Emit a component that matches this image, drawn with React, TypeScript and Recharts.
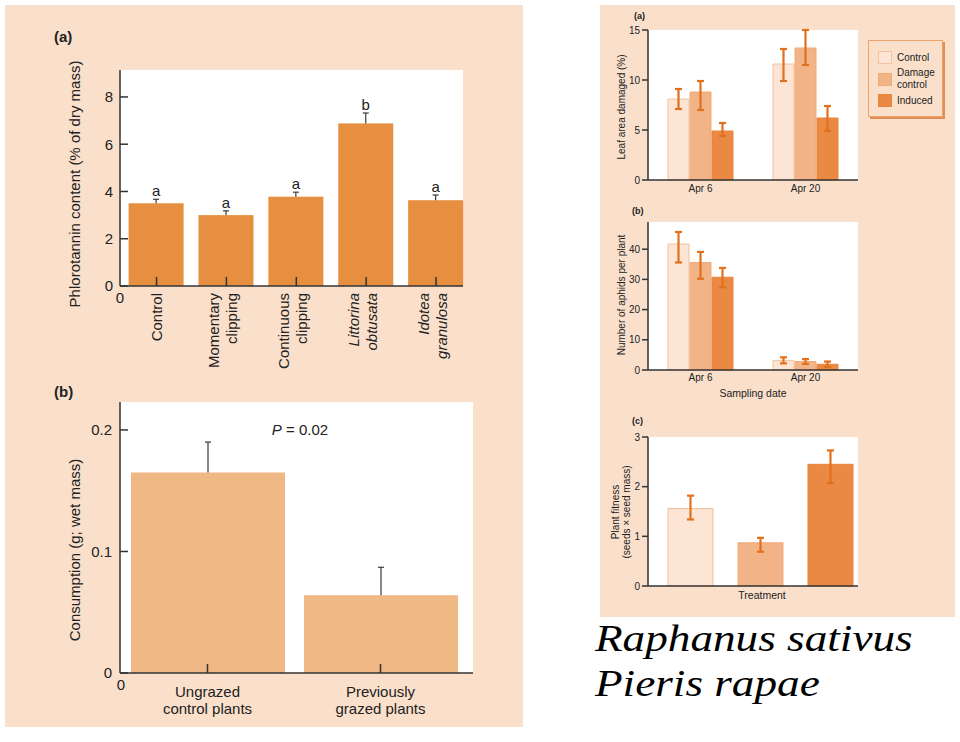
import React from 'react';
import { BarChart, Bar, XAxis, YAxis, CartesianGrid, ErrorBar, Legend } from 'recharts';

const PEACH = '#FAE0CB';
const SANS = '"Liberation Sans", Arial, sans-serif';
const SERIF = '"Liberation Serif", "Times New Roman", serif';
const INK = '#222';
const AXIS = '#333';

// left (a): phlorotannin content by treatment
const treatments = ['Control', 'Momentary clipping', 'Continuous clipping', 'Littorina obtusata', 'Idotea granulosa'];
const treatmentLines = [['Control'], ['Momentary', 'clipping'], ['Continuous', 'clipping'], ['Littorina', 'obtusata'], ['Idotea', 'granulosa']];
const treatmentItalic = [false, false, false, true, true];
const phlorotannin = [3.5, 3.0, 3.78, 6.88, 3.63];
const phlorotanninSE = [0.17, 0.18, 0.19, 0.44, 0.22];
const phlorotanninGroup = ['a', 'a', 'a', 'b', 'a'];
const phlorotanninTicks = [0, 2, 4, 6, 8];

// left (b): consumption by grazing history
const grazing = ['Ungrazed control plants', 'Previously grazed plants'];
const grazingLines = [['Ungrazed', 'control plants'], ['Previously', 'grazed plants']];
const consumption = [0.165, 0.064];
const consumptionSE = [0.025, 0.023];
const consumptionTicks = [0, 0.1, 0.2];

// right panels: Raphanus sativus / Pieris rapae
const dates = ['Apr 6', 'Apr 20'];
const seriesNames = ['Control', 'Damage control', 'Induced'];

const leafControl = [8.1, 11.6];
const leafControlErr = [[1.0, 1.0], [1.7, 1.5]];
const leafDamage = [8.8, 13.2];
const leafDamageErr = [[1.8, 1.1], [1.7, 1.8]];
const leafInduced = [4.9, 6.2];
const leafInducedErr = [[0.5, 0.8], [1.3, 1.2]];
const leafTicks = [0, 5, 10, 15];

const aphidControl = [41.7, 3.2];
const aphidControlErr = [[6.1, 4.0], [1.0, 1.0]];
const aphidDamage = [35.6, 2.8];
const aphidDamageErr = [[5.4, 3.5], [0.8, 0.8]];
const aphidInduced = [30.7, 1.9];
const aphidInducedErr = [[3.3, 3.1], [0.9, 0.9]];
const aphidTicks = [0, 10, 20, 30, 40];

const fitness = [1.56, 0.87, 2.45];
const fitnessErr = [[0.22, 0.26], [0.18, 0.1], [0.38, 0.28]];
const fitnessTicks = [0, 1, 2, 3];

const SERIES_FILL = ['#FCE5D4', '#F2B487', '#EA8943'];
const SERIES_STROKE = ['#F0C29F', '#EFAA77', '#E8843C'];
const ERR = '#E2711D';

const phloroRows = treatments.map((t, i) => ({
  name: t, v: phlorotannin[i], se: phlorotanninSE[i], group: phlorotanninGroup[i],
}));
const consumptionRows = grazing.map((g, i) => ({ name: g, v: consumption[i], se: consumptionSE[i] }));
const leafRows = dates.map((d, i) => ({
  date: d,
  s0: leafControl[i], s0Err: leafControlErr[i],
  s1: leafDamage[i], s1Err: leafDamageErr[i],
  s2: leafInduced[i], s2Err: leafInducedErr[i],
}));
const aphidRows = dates.map((d, i) => ({
  date: d,
  s0: aphidControl[i], s0Err: aphidControlErr[i],
  s1: aphidDamage[i], s1Err: aphidDamageErr[i],
  s2: aphidInduced[i], s2Err: aphidInducedErr[i],
}));
const fitnessRows = seriesNames.map((n, i) => ({ name: n, v: fitness[i], err: fitnessErr[i] }));

// bar with an upward-only whisker and optional group letter
const whiskerBar = (fill: string, cap: number) => (p: any) => {
  const { x, y, width, height, payload } = p;
  const perUnit = payload.v ? height / payload.v : 0;
  const top = y - payload.se * perUnit;
  const cx = x + width / 2;
  return (
    <g>
      <rect x={x} y={y} width={width} height={height} fill={fill} />
      <line x1={cx} x2={cx} y1={y} y2={top} stroke="#3a3a3a" strokeWidth={1.2} />
      <line x1={cx - cap} x2={cx + cap} y1={top} y2={top} stroke="#3a3a3a" strokeWidth={1.2} />
      {payload.group && (
        <text x={cx} y={top - 3} textAnchor="middle" fontSize={15} fontFamily={SANS} fill={INK}>
          {payload.group}
        </text>
      )}
    </g>
  );
};

const TreatmentTick = (p: any) => {
  const { x, y, payload } = p;
  const i = treatments.indexOf(payload.value);
  const lines = treatmentLines[i] || [payload.value];
  const top = y + 7;
  const first = lines.length === 1 ? 5.5 : -7.5;
  return (
    <text
      transform={`rotate(-90 ${x} ${top})`}
      x={x} y={top} textAnchor="end" fontSize={15} fontFamily={SANS} fill={INK}
      fontStyle={treatmentItalic[i] ? 'italic' : 'normal'}
    >
      {lines.map((l, k) => (
        <tspan key={k} x={x} dy={k === 0 ? first : 18}>{l}</tspan>
      ))}
    </text>
  );
};

const GrazingTick = (p: any) => {
  const { x, y, payload } = p;
  const lines = grazingLines[grazing.indexOf(payload.value)] || [payload.value];
  return (
    <text x={x} y={y} textAnchor="middle" fontSize={15} fontFamily={SANS} fill={INK}>
      {lines.map((l, k) => (
        <tspan key={k} x={x} dy={k === 0 ? 24 : 17}>{l}</tspan>
      ))}
    </text>
  );
};

// rotated axis title(s), coordinates in the chart's own frame
const vTitle = (lines: string[], xs: number[], cy: number, size: number) => () => (
  <g>
    {lines.map((l, k) => (
      <text key={k} transform={`rotate(-90 ${xs[k]} ${cy})`} x={xs[k]} y={cy} textAnchor="middle"
        fontSize={size} fontFamily={SANS} fill={INK}>{l}</text>
    ))}
  </g>
);

const LeafLegend = () => (
  <div style={{
    width: 75, height: 77, boxSizing: 'border-box', background: PEACH,
    border: '1px solid #E9A36E', boxShadow: '2px 2px 0 #E08E55',
    padding: '10px 0 0 9px', display: 'flex', flexDirection: 'column', gap: 3,
    fontFamily: SANS, fontSize: 10, color: INK,
  }}>
    {seriesNames.map((n, i) => (
      <div key={n} style={{ display: 'flex', alignItems: 'center', gap: 5 }}>
        <div style={{ width: 14, height: 13, background: SERIES_FILL[i], boxSizing: 'border-box', border: `1px solid ${SERIES_STROKE[i]}`, flex: 'none' }} />
        <div style={{ width: 42, lineHeight: '12px' }}>{n}</div>
      </div>
    ))}
  </div>
);

const rightTick = { fontSize: 10, fill: INK, fontFamily: SANS };

const groupedBars = () =>
  seriesNames.map((n, i) => (
    <Bar key={n} name={n} dataKey={`s${i}`} fill={SERIES_FILL[i]} stroke={SERIES_STROKE[i]} strokeWidth={1}
      barSize={21} isAnimationActive={false}>
      <ErrorBar dataKey={`s${i}Err`} width={3.5} strokeWidth={2.2} stroke={ERR} isAnimationActive={false} />
    </Bar>
  ));

export default function App() {
  return (
    <div style={{ position: 'absolute', left: 0, top: 0, width: 960, height: 742, background: '#fff', overflow: 'hidden', fontFamily: SANS }}>
      <div style={{ position: 'absolute', left: 5, top: 5, width: 518, height: 722, background: PEACH }} />
      <div style={{ position: 'absolute', left: 600, top: 5, width: 355, height: 612, background: PEACH }} />

      {/* left (a) */}
      <div style={{ position: 'absolute', left: 0, top: 0 }}>
        <BarChart width={530} height={380} data={phloroRows} margin={{ top: 70, right: 67, bottom: 4, left: 60 }}>
          <CartesianGrid horizontal={false} vertical={false} fill="#fff" />
          <XAxis dataKey="name" height={90} padding={{ left: 1.6, right: -8 }} interval={0}
            tickSize={-9} tickMargin={9} tick={<TreatmentTick />}
            axisLine={{ stroke: AXIS, strokeWidth: 1.5 }} tickLine={{ stroke: AXIS, strokeWidth: 1.5 }} />
          <YAxis width={60} domain={[0, 9.14]} ticks={phlorotanninTicks} tickSize={-8} tickMargin={15}
            tick={{ fontSize: 15, fill: INK, fontFamily: SANS }}
            axisLine={{ stroke: AXIS, strokeWidth: 1.5 }} tickLine={{ stroke: AXIS, strokeWidth: 1.5 }}
            label={vTitle(['Phlorotannin content (% of dry mass)'], [80], 184, 15)} />
          <Bar dataKey="v" barSize={55} isAnimationActive={false} shape={whiskerBar('#E68F40', 3)} />
        </BarChart>
      </div>

      {/* left (b) */}
      <div style={{ position: 'absolute', left: 0, top: 380 }}>
        <BarChart width={530} height={362} data={consumptionRows} margin={{ top: 22, right: 57, bottom: 19, left: 60 }}>
          <CartesianGrid horizontal={false} vertical={false} fill="#fff" />
          <XAxis dataKey="name" height={50} padding={{ left: 1, right: 6 }} interval={0}
            tickSize={-9} tickMargin={9} tick={<GrazingTick />}
            axisLine={{ stroke: AXIS, strokeWidth: 1.5 }} tickLine={{ stroke: AXIS, strokeWidth: 1.5 }} />
          <YAxis width={60} domain={[0, 0.223]} ticks={consumptionTicks} tickSize={-8} tickMargin={16}
            tickFormatter={(v: number) => String(v)}
            tick={{ fontSize: 15, fill: INK, fontFamily: SANS }}
            axisLine={{ stroke: AXIS, strokeWidth: 1.5 }} tickLine={{ stroke: AXIS, strokeWidth: 1.5 }}
            label={vTitle(['Consumption (g; wet mass)'], [80], 170, 15)} />
          <Bar dataKey="v" barSize={154} isAnimationActive={false} shape={whiskerBar('#EFB884', 3)} />
        </BarChart>
      </div>

      {/* right (a) */}
      <div style={{ position: 'absolute', left: 595, top: 0 }}>
        <BarChart width={365} height={200} data={leafRows} barGap={1} margin={{ top: 30, right: 102, bottom: 4, left: 28 }}>
          <CartesianGrid horizontal={false} vertical={false} fill="#fff" />
          <XAxis dataKey="date" height={16} tickLine={false} tickSize={5} tickMargin={0} tick={rightTick}
            axisLine={{ stroke: AXIS, strokeWidth: 1.5 }} />
          <YAxis width={25} domain={[0, 15]} ticks={leafTicks} tickSize={6} tickMargin={2} tick={rightTick}
            axisLine={{ stroke: AXIS, strokeWidth: 1.5 }} tickLine={{ stroke: AXIS, strokeWidth: 1.5 }}
            label={vTitle(['Leaf area damaged (%)'], [30], 107, 10)} />
          <Legend layout="vertical" align="center" verticalAlign="middle"
            wrapperStyle={{ left: 273, top: 40, width: 75, height: 77 }} content={() => <LeafLegend />} />
          {groupedBars()}
        </BarChart>
      </div>

      {/* right (b) */}
      <div style={{ position: 'absolute', left: 595, top: 195 }}>
        <BarChart width={365} height={215} data={aphidRows} barGap={1} margin={{ top: 27, right: 102, bottom: 5, left: 28 }}>
          <CartesianGrid horizontal={false} vertical={false} fill="#fff" />
          <XAxis dataKey="date" height={35} tickLine={false} tickSize={4} tickMargin={0} tick={rightTick}
            axisLine={{ stroke: AXIS, strokeWidth: 1.5 }}
            label={{ value: 'Sampling date', position: 'insideBottom', offset: 8, fontSize: 10.5, fill: INK, fontFamily: SANS }} />
          <YAxis width={25} domain={[0, 49]} ticks={aphidTicks} tickSize={6} tickMargin={2} tick={rightTick}
            axisLine={{ stroke: AXIS, strokeWidth: 1.5 }} tickLine={{ stroke: AXIS, strokeWidth: 1.5 }}
            label={vTitle(['Number of aphids per plant'], [30], 100, 10)} />
          {groupedBars()}
        </BarChart>
      </div>

      {/* right (c) */}
      <div style={{ position: 'absolute', left: 595, top: 405 }}>
        <BarChart width={365} height={215} data={fitnessRows} margin={{ top: 32, right: 102, bottom: 14, left: 28 }}>
          <CartesianGrid horizontal={false} vertical={false} fill="#fff" />
          <XAxis dataKey="name" height={20} tick={false} tickLine={false} padding={{ left: 7, right: -7 }}
            axisLine={{ stroke: AXIS, strokeWidth: 1.5 }}
            label={(p: any) => {
              const vb = p.viewBox || { x: 53, y: 181, width: 210 };
              return (
                <text x={vb.x + vb.width / 2 + 9} y={vb.y + 13} textAnchor="middle" fontSize={10.5} fontFamily={SANS} fill={INK}>
                  Treatment
                </text>
              );
            }} />
          <YAxis width={25} domain={[0, 3]} ticks={fitnessTicks} tickSize={6} tickMargin={2} tick={rightTick}
            axisLine={{ stroke: AXIS, strokeWidth: 1.5 }} tickLine={{ stroke: AXIS, strokeWidth: 1.5 }}
            label={vTitle(['Plant fitness', '(seeds × seed mass)'], [24, 35], 107, 10)} />
          <Bar dataKey="v" barSize={45} isAnimationActive={false}
            shape={(p: any) => {
              const i = seriesNames.indexOf(p.payload.name);
              return <rect x={p.x} y={p.y} width={p.width} height={p.height} fill={SERIES_FILL[i]} stroke={SERIES_STROKE[i]} />;
            }}>
            <ErrorBar dataKey="err" width={3.5} strokeWidth={2.2} stroke={ERR} isAnimationActive={false} />
          </Bar>
        </BarChart>
      </div>

      <svg width={960} height={742} style={{ position: 'absolute', left: 0, top: 0, pointerEvents: 'none' }}>
        <text x={54} y={42} fontSize={15} fontWeight="bold" fontFamily={SANS} fill={INK}>(a)</text>
        <text x={54} y={397} fontSize={15} fontWeight="bold" fontFamily={SANS} fill={INK}>(b)</text>
        <text x={120} y={303} textAnchor="middle" fontSize={15} fontFamily={SANS} fill={INK}>0</text>
        <text x={121} y={690} textAnchor="middle" fontSize={15} fontFamily={SANS} fill={INK}>0</text>
        <text x={300} y={435} textAnchor="middle" fontSize={15} fontFamily={SANS} fill={INK}>
          <tspan fontStyle="italic">P</tspan> = 0.02
        </text>
        <text x={634} y={19} fontSize={9} fontWeight="bold" fontFamily={SANS} fill={INK}>(a)</text>
        <text x={632} y={214} fontSize={9} fontWeight="bold" fontFamily={SANS} fill={INK}>(b)</text>
        <text x={632} y={424} fontSize={9} fontWeight="bold" fontFamily={SANS} fill={INK}>(c)</text>
        <text transform="translate(595 651) scale(1.19 1)" fontSize={38} fontStyle="italic" fontFamily={SERIF} fill="#000">Raphanus sativus</text>
        <text transform="translate(595 696) scale(1.19 1)" fontSize={38} fontStyle="italic" fontFamily={SERIF} fill="#000">Pieris rapae</text>
      </svg>
    </div>
  );
}
